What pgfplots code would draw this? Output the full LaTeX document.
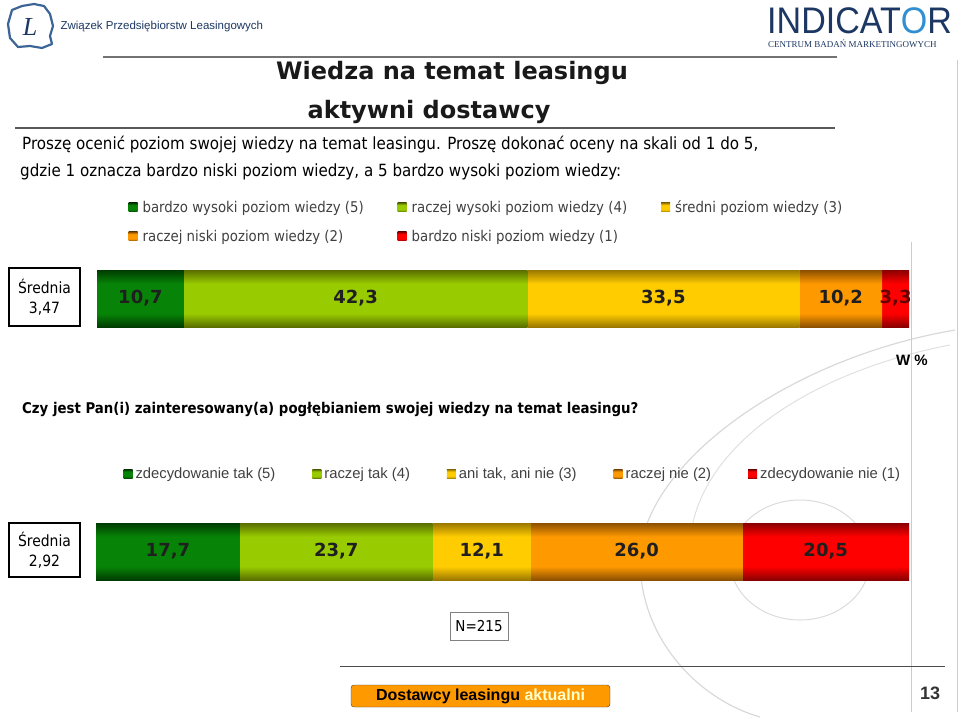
\documentclass[border=0pt]{standalone}
\usepackage{pgfplots}
\pgfplotsset{compat=1.18}
\usepackage{fontspec}
\setmainfont{Liberation Sans}
\newfontfamily\tah{DejaVu Sans}[FakeStretch=0.9]
\newfontfamily\dv{DejaVu Sans}
\newfontfamily\lserif{Liberation Serif}
\newcommand{\fs}[1]{\fontsize{#1}{#1}\selectfont}

\definecolor{dgM}{HTML}{078407}\definecolor{dgE}{HTML}{003C00}
\definecolor{lgM}{HTML}{99CC00}\definecolor{lgE}{HTML}{5A6E00}
\definecolor{yeM}{HTML}{FFCC00}\definecolor{yeE}{HTML}{9A7800}
\definecolor{orM}{HTML}{FF9900}\definecolor{orE}{HTML}{8C5000}
\definecolor{reM}{HTML}{FF0000}\definecolor{reE}{HTML}{8A0000}
\definecolor{navy}{HTML}{1C3763}

\pgfdeclareverticalshading{shDG}{100bp}{color(0bp)=(dgE); color(25bp)=(dgE); color(37bp)=(dgM); color(63bp)=(dgM); color(75bp)=(dgE); color(100bp)=(dgE)}
\pgfdeclareverticalshading{shLG}{100bp}{color(0bp)=(lgE); color(25bp)=(lgE); color(37bp)=(lgM); color(63bp)=(lgM); color(75bp)=(lgE); color(100bp)=(lgE)}
\pgfdeclareverticalshading{shYE}{100bp}{color(0bp)=(yeE); color(25bp)=(yeE); color(37bp)=(yeM); color(63bp)=(yeM); color(75bp)=(yeE); color(100bp)=(yeE)}
\pgfdeclareverticalshading{shOR}{100bp}{color(0bp)=(orE); color(25bp)=(orE); color(37bp)=(orM); color(63bp)=(orM); color(75bp)=(orE); color(100bp)=(orE)}
\pgfdeclareverticalshading{shRE}{100bp}{color(0bp)=(reE); color(25bp)=(reE); color(37bp)=(reM); color(63bp)=(reM); color(75bp)=(reE); color(100bp)=(reE)}

\pgfplotsset{
  barstyle/.style={
    scale only axis, height=57pt,
    xmin=0, xmax=100, ymin=-0.5, ymax=0.5,
    xbar stacked, bar width=57pt,
    axis lines=none, clip=false,
    point meta=explicit,
    nodes near coords={\pgfmathprintnumber[fixed,fixed zerofill,precision=1,use comma,assume math mode=true]{\pgfplotspointmeta}},
    nodes near coords style={font=\dv\bfseries\fs{18}, text=black!88},
    legend cell align=left,
    legend image code/.code={\path[##1] (0pt,-4.5pt) rectangle (9pt,4.5pt);},
  },
  pDG/.style={shade, shading=shDG, draw=none},
  pLG/.style={shade, shading=shLG, draw=none},
  pYE/.style={shade, shading=shYE, draw=none},
  pOR/.style={shade, shading=shOR, draw=none},
  pRE/.style={shade, shading=shRE, draw=none},
}

\begin{document}
\begin{tikzpicture}
\path[use as bounding box] (0,0) rectangle (960pt,-717pt);

% background watermark curves
\draw[black!15, line width=1.2pt] (955pt,-330pt) .. controls (780pt,-360pt) and (640pt,-470pt) .. (640pt,-560pt) .. controls (640pt,-640pt) and (700pt,-700pt) .. (760pt,-717pt);
\draw[black!12, line width=1pt] (950pt,-345pt) .. controls (820pt,-370pt) and (700pt,-440pt) .. (690pt,-540pt);
\draw[black!14, line width=1pt] (800pt,-560pt) circle[x radius=70pt, y radius=60pt];
\draw[black!20, line width=1pt] (911pt,-242pt) -- (911pt,-712pt);
\draw[black!20, line width=1pt] (957pt,-60pt) -- (957pt,-712pt);

% left logo
\draw[fill=white, draw={rgb,255:red,60;green,100;blue,150}, line width=2.2pt, line join=round]
  (12pt,-10pt) -- (22pt,-6pt) -- (34pt,-4pt) -- (44pt,-6pt) -- (50pt,-14pt) -- (53pt,-26pt) -- (50pt,-36pt) -- (52pt,-44pt) -- (42pt,-48pt) -- (30pt,-46pt) -- (18pt,-47pt) -- (10pt,-38pt) -- (8pt,-24pt) -- cycle;
\node[font=\lserif\itshape\fs{26}, text=navy] at (30pt,-27pt) {L};
\node[anchor=west, font=\fs{11.5}, text=navy] at (57pt,-27pt) {Związek Przedsiębiorstw Leasingowych};

% right logo
\node[anchor=base west, font=\fs{37}, text=navy, inner sep=0pt] at (767pt,-34pt) {\scalebox{0.92}[1]{INDICAT{\color[HTML]{2F8FD0}O}R}};
\node[anchor=base west, font=\lserif\fs{9}, text=navy, inner sep=0pt] at (768pt,-48pt) {CENTRUM BADAŃ MARKETINGOWYCH};

% lines
\draw[black!55, line width=1.5pt] (103pt,-57pt) -- (837pt,-57pt);
\draw[black!65, line width=2pt] (15pt,-128pt) -- (835pt,-128pt);
\draw[black!70, line width=1pt] (340pt,-666pt) -- (945pt,-666pt);

% title
\node[font=\dv\bfseries\fs{24}, text=black!90] at (452pt,-73pt) {Wiedza na temat leasingu};
\node[font=\dv\bfseries\fs{24}, text=black!90] at (429pt,-112pt) {aktywni dostawcy};

% question
\node[anchor=base west, font=\tah\fs{16.8}, inner sep=0pt] at (22pt,-149pt) {Proszę ocenić poziom swojej wiedzy na temat leasingu. Proszę dokonać oceny na skali od 1 do 5,};
\node[anchor=base west, font=\tah\fs{16.8}, inner sep=0pt] at (20pt,-176pt) {gdzie 1 oznacza bardzo niski poziom wiedzy, a 5 bardzo wysoki poziom wiedzy:};

% Srednia boxes
\node[draw, line width=1.5pt, minimum width=71pt, minimum height=58pt, align=center, font=\tah\fs{15.5}, inner sep=0pt] at (44.5pt,-297pt) {Średnia\\[4pt]3,47};
\node[draw, line width=1.5pt, minimum width=71pt, minimum height=54pt, align=center, font=\tah\fs{15.5}, inner sep=0pt] at (44.5pt,-550pt) {Średnia\\[4pt]2,92};

\node[font=\bfseries\fs{15}] at (912pt,-360pt) {W \%};

\node[anchor=base west, font=\tah\bfseries\fs{14.8}, inner sep=0pt] at (22pt,-413pt) {Czy jest Pan(i) zainteresowany(a) pogłębianiem swojej wiedzy na temat leasingu?};

% N box
\node[draw=black!50, line width=0.8pt, minimum width=58pt, minimum height=28pt, font=\tah\fs{15}] at (479pt,-626pt) {N=215};

% footer
\node[draw=black!75, fill=orM, rounded corners=3pt, minimum width=259pt, minimum height=22pt, font=\bfseries\fs{16}, inner sep=0pt] at (480.5pt,-696pt) {Dostawcy leasingu \textcolor[HTML]{FFFFCC}{aktualni}};
\node[font=\bfseries\fs{18}, text=black!80] at (930pt,-693pt) {13};

% chart 1
\begin{axis}[barstyle, at={(97pt,-270pt)}, anchor=north west, width=812pt,
  legend columns=3,
  legend style={at={(0.035,2.29)}, anchor=north west, draw=none, fill=none,
    font=\tah\fs{14.8}, text=black!75, row sep=12pt,
    /tikz/every odd column/.append style={column sep=3pt},
    /tikz/every even column/.append style={column sep=32pt}},
]
\addplot[pDG] coordinates {(10.7,0) [10.7]};
\addplot[pLG] coordinates {(42.3,0) [42.3]};
\addplot[pYE] coordinates {(33.5,0) [33.5]};
\addplot[pOR] coordinates {(10.2,0) [10.2]};
\addplot[pRE, nodes near coords style={text=red!40!black}] coordinates {(3.3,0) [3.3]};
\legend{bardzo wysoki poziom wiedzy (5), raczej wysoki poziom wiedzy (4), średni poziom wiedzy (3), raczej niski poziom wiedzy (2), bardzo niski poziom wiedzy (1)}
\end{axis}

% chart 2
\begin{axis}[barstyle, at={(96pt,-523pt)}, anchor=north west, width=813pt,
  legend columns=5,
  legend style={at={(0.03,2.04)}, anchor=north west, draw=none, fill=none,
    font=\fs{14.8}, text=black!75,
    /tikz/every odd column/.append style={column sep=1pt},
    /tikz/every even column/.append style={column sep=35pt}},
]
\addplot[pDG] coordinates {(17.7,0) [17.7]};
\addplot[pLG] coordinates {(23.7,0) [23.7]};
\addplot[pYE] coordinates {(12.1,0) [12.1]};
\addplot[pOR] coordinates {(26.0,0) [26.0]};
\addplot[pRE] coordinates {(20.5,0) [20.5]};
\legend{zdecydowanie tak (5), raczej tak (4), {ani tak, ani nie (3)}, raczej nie (2), zdecydowanie nie (1)}
\end{axis}
\end{tikzpicture}
\end{document}
